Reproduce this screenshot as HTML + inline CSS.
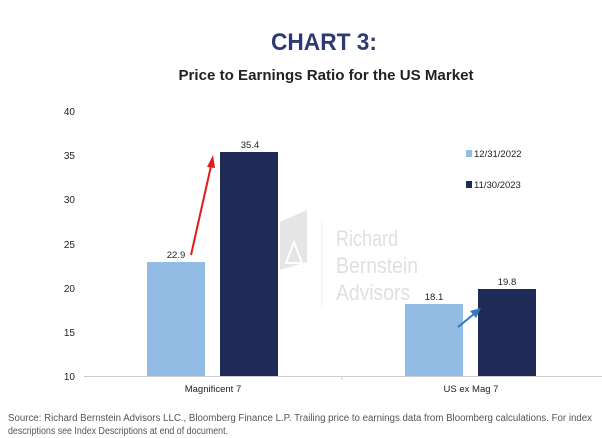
<!DOCTYPE html>
<html><head><meta charset="utf-8"><style>
html,body{margin:0;padding:0;background:#fff;}
svg{display:block;}
</style></head><body>
<svg width="602" height="438" viewBox="0 0 602 438" xmlns="http://www.w3.org/2000/svg">
<rect width="602" height="438" fill="#fff"/>
<text x="324" y="50" text-anchor="middle" font-family="Liberation Sans, sans-serif" font-weight="bold" font-size="24" fill="#2e3a72" textLength="106" lengthAdjust="spacingAndGlyphs">CHART 3:</text>
<text x="326" y="80" text-anchor="middle" font-family="Liberation Sans, sans-serif" font-weight="bold" font-size="15" fill="#222" textLength="295" lengthAdjust="spacingAndGlyphs">Price to Earnings Ratio for the US Market</text>
<!-- watermark -->
<g opacity="0.3">
<polygon points="280,222 307,210 307,262 280,270" fill="#aaa"/>
<polygon points="286,263 294,242 302,263" fill="none" stroke="#fff" stroke-width="2"/>
<line x1="322" y1="222" x2="322" y2="306" stroke="#bbb" stroke-width="1"/>
<text x="336" y="246" font-family="Liberation Sans, sans-serif" font-size="22" fill="#999" textLength="62" lengthAdjust="spacingAndGlyphs">Richard</text>
<text x="336" y="273" font-family="Liberation Sans, sans-serif" font-size="22" fill="#999" textLength="82" lengthAdjust="spacingAndGlyphs">Bernstein</text>
<text x="336" y="300" font-family="Liberation Sans, sans-serif" font-size="22" fill="#999" textLength="74" lengthAdjust="spacingAndGlyphs">Advisors</text>
</g>
<g font-family="Liberation Sans, sans-serif" font-size="10" fill="#222" text-anchor="end">
<text x="75" y="115">40</text>
<text x="75" y="159">35</text>
<text x="75" y="203">30</text>
<text x="75" y="248">25</text>
<text x="75" y="292">20</text>
<text x="75" y="336">15</text>
<text x="75" y="380">10</text>
</g>
<line x1="84" y1="376.5" x2="602" y2="376.5" stroke="#ccc" stroke-width="1"/>
<line x1="342" y1="376" x2="342" y2="380" stroke="#ccc"/>
<rect x="147" y="262" width="58" height="114" fill="#92bce4"/>
<rect x="220" y="152" width="58" height="224" fill="#1f2a56"/>
<rect x="405" y="304" width="58" height="72" fill="#92bce4"/>
<rect x="478" y="289" width="58" height="87" fill="#1f2a56"/>
<g font-family="Liberation Sans, sans-serif" font-size="9.5" fill="#222" text-anchor="middle">
<text x="176" y="258">22.9</text>
<text x="250" y="148">35.4</text>
<text x="434" y="300">18.1</text>
<text x="507" y="285">19.8</text>
<text x="213" y="392">Magnificent 7</text>
<text x="471" y="392">US ex Mag 7</text>
</g>
<rect x="466" y="150" width="6" height="7" fill="#92bce4"/>
<rect x="466" y="181" width="6" height="7" fill="#1f2a56"/>
<g font-family="Liberation Sans, sans-serif" font-size="9.5" fill="#222">
<text x="474" y="157">12/31/2022</text>
<text x="474" y="188">11/30/2023</text>
</g>
<line x1="191" y1="255" x2="211" y2="166" stroke="#e31b1b" stroke-width="2"/>
<polygon points="213,155 207,167 215,168" fill="#e31b1b"/>
<line x1="458" y1="327" x2="474" y2="314" stroke="#2f7bc0" stroke-width="2"/>
<polygon points="481,308 470,311 476,318" fill="#2f7bc0"/>
<g font-family="Liberation Sans, sans-serif" font-size="10" fill="#555">
<text x="8" y="421" textLength="584" lengthAdjust="spacingAndGlyphs">Source:  Richard Bernstein Advisors LLC., Bloomberg Finance L.P. Trailing price to earnings data from Bloomberg calculations. For index</text>
<text x="8" y="434" textLength="220" lengthAdjust="spacingAndGlyphs">descriptions see Index Descriptions at end of document.</text>
</g>
</svg>
</body></html>
